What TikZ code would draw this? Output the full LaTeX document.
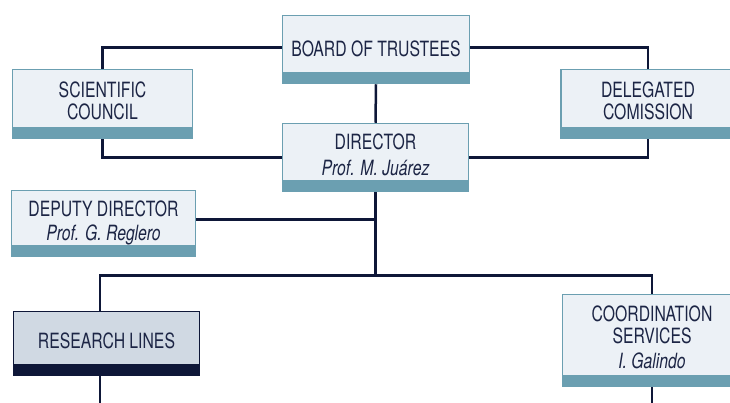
\documentclass[tikz,border=0pt]{standalone}
\usepackage{fontspec}
\setmainfont{TeX Gyre Heros}[FakeStretch=0.75]
\usepackage{tikz}

\definecolor{boxteal}{HTML}{6B9FB1}
\definecolor{boxfill}{HTML}{ECF1F6}
\definecolor{linenavy}{HTML}{0E1738}
\definecolor{resfill}{HTML}{D0D9E3}
\definecolor{textnavy}{HTML}{1C2545}

\begin{document}
\begin{tikzpicture}[x=1pt, y=-1pt, line width=2.5pt,
    orgbox/.style={draw=boxteal, line width=1.5pt, fill=boxfill, text=textnavy,
      align=center, inner sep=0pt, text depth=6pt, font=\fontsize{21}{22}\selectfont,
      path picture={\fill[boxteal] (path picture bounding box.south west)
        rectangle ([yshift=12pt]path picture bounding box.south east);}},
    darkbox/.style={orgbox, draw=linenavy, fill=resfill,
      path picture={\fill[linenavy] (path picture bounding box.south west)
        rectangle ([yshift=12pt]path picture bounding box.south east);}},
    link/.style={draw=linenavy, line width=2.5pt}]
    \useasboundingbox (0, 0) rectangle (730, 402);

    % draw boxes
    \node[orgbox, minimum width=187pt, minimum height=68pt, text depth=1.5pt] (board) at (376, 49.5) {BOARD OF TRUSTEES};
    \node[orgbox, minimum width=180pt, minimum height=69pt] (sci) at (102.5, 104) {SCIENTIFIC\\COUNCIL};
    \node[orgbox, minimum width=174pt, minimum height=69pt] (del) at (648, 104) {DELEGATED\\COMISSION};
    \node[orgbox, minimum width=186pt, minimum height=68pt] (dir) at (375.5, 157.5) {DIRECTOR\\[4pt]\itshape Prof. M. Juárez};
    \node[orgbox, minimum width=184pt, minimum height=66pt] (dep) at (103.5, 223.5) {DEPUTY DIRECTOR\\[2pt]\itshape Prof. G. Reglero};
    \node[darkbox, minimum width=186pt, minimum height=64pt] (res) at (106.5, 343.5) {RESEARCH LINES};
    \node[orgbox, minimum width=179pt, minimum height=92pt] (coord) at (652, 340.5) {COORDINATION\\SERVICES\\[3pt]\itshape I. Galindo};

    % draw bus points
    \coordinate (busL) at (100, 275.5);
    \coordinate (busR) at (652, 275.5);
    \coordinate (bottom) at (0, 406);

    % draw connectors
    \draw[link] (sci.north) |- ([yshift=2pt]board.west);
    \draw[link] (del.north) |- ([yshift=2pt]board.east);
    \draw[link] (sci.south) |- (dir.west);
    \draw[link] (del.south) |- (dir.east);
    \draw[link] (board.south) -- (dir.north);
    \draw[link] (dir.south) -- (dir.south |- busL);
    \draw[link] ([yshift=4pt]dep.east) -- ([yshift=4pt]dep.east -| dir.south);
    \draw[link] (busL |- res.north) -- (busL) -- (busR) -- (coord.north);
    \draw[link] (busL |- res.south) -- (busL |- bottom);
    \draw[link] (coord.south) -- (coord.south |- bottom);

\end{tikzpicture}
\end{document}
